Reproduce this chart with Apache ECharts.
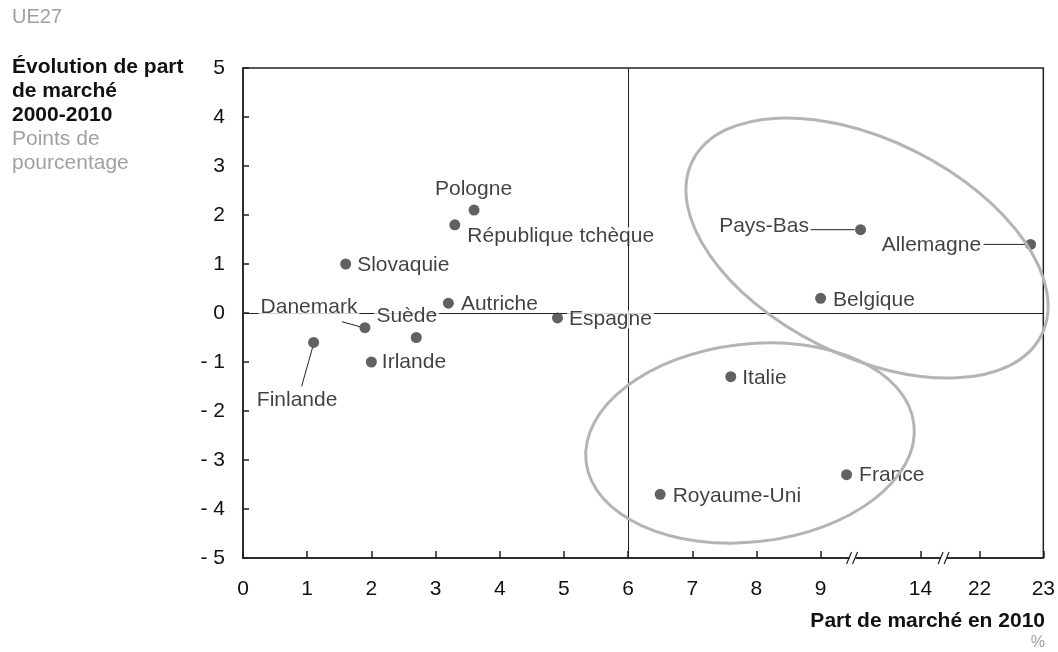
<!DOCTYPE html>
<html>
<head>
<meta charset="utf-8">
<script src="https://cdn.jsdelivr.net/npm/echarts@6/dist/echarts.min.js"></script>
<style>
  html, body {margin: 0; padding: 0; background: #fff;}
  #chart {width: 1058px; height: 652px;}
</style>
</head>
<body>
<div id="chart"></div>
<script>
const countries = ['Pologne', 'République tchèque', 'Slovaquie', 'Autriche', 'Espagne', 'Danemark', 'Suède',
  'Finlande', 'Irlande', 'Pays-Bas', 'Allemagne', 'Belgique', 'Italie', 'France', 'Royaume-Uni'];
const share2010 = [3.6, 3.3, 1.6, 3.2, 4.9, 1.9, 2.7, 1.1, 2.0, 11.0, 22.8, 9.0, 7.6, 10.3, 6.5];
const shareChange = [2.1, 1.8, 1.0, 0.2, -0.1, -0.3, -0.5, -0.6, -1.0, 1.7, 1.4, 0.3, -1.3, -3.3, -3.7];
const xTicks = [0, 1, 2, 3, 4, 5, 6, 7, 8, 9, 14, 22, 23];
const xBreaks = [10.6, 17.2];

// broken x axis: real value -> axis position
const realStops = [0, 9, 14, 22, 23];
const axisStops = [0, 9, 10.555, 11.477, 12.47];
const toAxis = (v) => {
  for (let i = 1; i < realStops.length; i++) {
    if (v <= realStops[i]) {
      const t = (v - realStops[i - 1]) / (realStops[i] - realStops[i - 1]);
      return axisStops[i - 1] + t * (axisStops[i] - axisStops[i - 1]);
    }
  }
  return axisStops[axisStops.length - 1];
};

const font = 'Liberation Sans, Arial, sans-serif';
const dark = '#111';
const grey = '#a0a0a0';
const fs = 21;

// label placement relative to the dot centre, leader = [x1, y1, x2, y2] also relative
const labelPlacement = {
  'Pologne': {align: 'center', dx: 0, dy: -20},
  'République tchèque': {align: 'left', dx: 13, dy: 12},
  'Slovaquie': {align: 'left', dx: 12, dy: 2},
  'Autriche': {align: 'left', dx: 13, dy: 2, lineHeight: 14},
  'Espagne': {align: 'left', dx: 12, dy: 2},
  'Danemark': {align: 'right', dx: -7, dy: -20, leader: [-23, -6, -5, -1]},
  'Suède': {align: 'center', dx: -9, dy: -21},
  'Finlande': {align: 'center', dx: -16, dy: 58, leader: [-12, 44, -1, 5]},
  'Irlande': {align: 'left', dx: 11, dy: 1},
  'Pays-Bas': {align: 'right', dx: -51, dy: -3, leader: [-50, 0, -6, 0]},
  'Allemagne': {align: 'right', dx: -49, dy: 1, leader: [-47, 0, -5, 0]},
  'Belgique': {align: 'left', dx: 13, dy: 2},
  'Italie': {align: 'left', dx: 12, dy: 2},
  'France': {align: 'left', dx: 13, dy: 1},
  'Royaume-Uni': {align: 'left', dx: 13, dy: 2}
};

const points = countries.map((name, i) => {
  const p = labelPlacement[name];
  const pad = p.align === 'left' ? -2 : (p.align === 'right' ? 2 : 0);
  const label = {position: [5 + p.dx + pad, 5 + p.dy], align: p.align};
  if (p.lineHeight) {
    label.lineHeight = p.lineHeight;
  }
  return {
    name: name,
    value: [toAxis(share2010[i]), shareChange[i]],
    label: label
  };
});

const chart = echarts.init(document.getElementById('chart'), null, {renderer: 'canvas'});

const option = {
  animation: false,
  title: [
    {
      text: 'UE27', left: 12, top: 7, padding: 0,
      textStyle: {color: grey, fontSize: 20, fontWeight: 'normal', fontFamily: font}
    },
    {
      text: 'Évolution de part\nde marché\n2000-2010',
      subtext: 'Points de\npourcentage',
      left: 12, top: 55, padding: 0, itemGap: 0,
      textStyle: {color: dark, fontSize: fs, lineHeight: 24, fontWeight: 'bold', fontFamily: font},
      subtextStyle: {color: grey, fontSize: fs, lineHeight: 24, fontFamily: font}
    }
  ],
  grid: {
    left: 243, right: 13, top: 68, bottom: 94,
    show: true, borderColor: '#222', borderWidth: 1.5, backgroundColor: 'transparent'
  },
  xAxis: {
    type: 'value', min: 0, max: toAxis(23),
    splitLine: {show: false},
    axisLine: {show: true, onZero: false, lineStyle: {color: '#222', width: 1.5}},
    axisTick: {
      show: true, inside: true, length: 7,
      customValues: xTicks.map(toAxis),
      lineStyle: {color: '#222', width: 1.5}
    },
    axisLabel: {
      customValues: xTicks.map(toAxis),
      margin: 21, color: dark, fontSize: fs, fontFamily: font,
      formatter: (v) => {
        const i = xTicks.findIndex(t => Math.abs(toAxis(t) - v) < 1e-6);
        return i < 0 ? '' : String(xTicks[i]);
      }
    }
  },
  yAxis: {
    type: 'value', min: -5, max: 5, interval: 1,
    splitLine: {show: false},
    axisLine: {show: true, onZero: false, lineStyle: {color: '#222', width: 1.5}},
    axisTick: {show: true, inside: true, length: 6, lineStyle: {color: '#222', width: 1.5}},
    axisLabel: {
      margin: 18, color: dark, fontSize: fs, fontFamily: font,
      formatter: (v) => (v < 0 ? '- ' + Math.abs(v) : String(v))
    }
  },
  series: [
    {
      type: 'scatter',
      data: [],
      z: 1,
      silent: true,
      markLine: {
        z: 1,
        silent: true,
        symbol: 'none',
        label: {show: false},
        lineStyle: {color: '#222', width: 1, type: 'solid'},
        data: [{xAxis: toAxis(6)}, {yAxis: 0}]
      }
    },
    {
      type: 'scatter',
      z: 10,
      silent: true,
      symbol: 'circle',
      symbolSize: 11,
      itemStyle: {color: '#3a3a3a'},
      label: {
        show: true,
        formatter: '{b}',
        color: dark,
        fontSize: fs,
        fontFamily: font,
        verticalAlign: 'middle',
        lineHeight: 18,
        backgroundColor: '#fff',
        padding: [0, 2]
      },
      data: points
    }
  ]
};

chart.setOption(option);

// break marks, leader lines, grouping ellipses and the x axis title
const axisY = chart.convertToPixel({yAxisIndex: 0}, -5);
const graphics = [];
xBreaks.forEach((b) => {
  const x = chart.convertToPixel({xAxisIndex: 0}, toAxis(b));
  graphics.push(
    {type: 'rect', z: 30, shape: {x: x - 3, y: axisY - 2, width: 6, height: 4}, style: {fill: '#fff'}},
    {type: 'line', z: 31, shape: {x1: x - 6, y1: axisY + 6, x2: x - 1, y2: axisY - 6}, style: {stroke: '#222', lineWidth: 1.2}},
    {type: 'line', z: 31, shape: {x1: x, y1: axisY + 6, x2: x + 5, y2: axisY - 6}, style: {stroke: '#222', lineWidth: 1.2}}
  );
});
points.forEach((pt) => {
  const lead = labelPlacement[pt.name].leader;
  if (!lead) return;
  const c = chart.convertToPixel({gridIndex: 0}, pt.value);
  graphics.push({
    type: 'line', z: 25,
    shape: {x1: c[0] + lead[0], y1: c[1] + lead[1], x2: c[0] + lead[2], y2: c[1] + lead[3]},
    style: {stroke: '#222', lineWidth: 1}
  });
});
graphics.push(
  {
    type: 'ellipse', z: 40, x: 867, y: 248, rotation: -26.5 * Math.PI / 180,
    shape: {cx: 0, cy: 0, rx: 195, ry: 108},
    style: {fill: 'none', stroke: '#b4b4b4', lineWidth: 3}
  },
  {
    type: 'ellipse', z: 40, x: 750, y: 443, rotation: 6.5 * Math.PI / 180,
    shape: {cx: 0, cy: 0, rx: 165, ry: 99},
    style: {fill: 'none', stroke: '#b4b4b4', lineWidth: 3}
  },
  {
    type: 'text', z: 40, x: 1045, y: 621,
    style: {text: 'Part de marché en 2010', align: 'right', verticalAlign: 'middle', fill: dark, fontSize: fs, fontWeight: 'bold', fontFamily: font}
  },
  {
    type: 'text', z: 40, x: 1045, y: 643,
    style: {text: '%', align: 'right', verticalAlign: 'middle', fill: grey, fontSize: 16, fontFamily: font}
  }
);
chart.setOption({graphic: graphics});
</script>
</body>
</html>
